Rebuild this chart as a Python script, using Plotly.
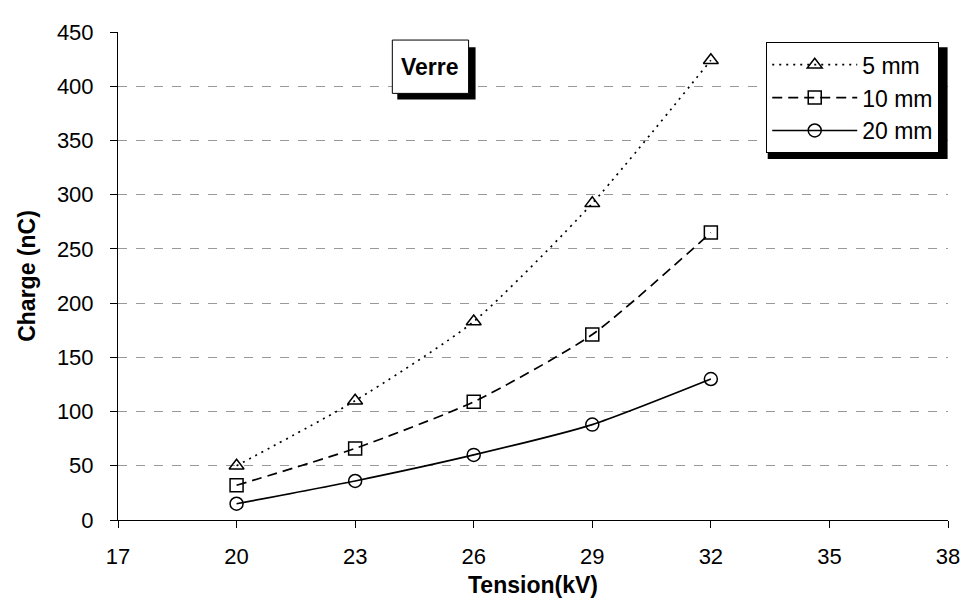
import plotly.graph_objects as go

tension = [20, 23, 26, 29, 32]
charge_5mm = [50, 110, 183, 292, 424]
charge_10mm = [32, 66, 109, 171, 265]
charge_20mm = [15, 36, 60, 88, 130]
series_names = ["5 mm", "10 mm", "20 mm"]
x_ticks = [17, 20, 23, 26, 29, 32, 35, 38]
y_ticks = [0, 50, 100, 150, 200, 250, 300, 350, 400, 450]

FONT = "Liberation Sans, Arial, sans-serif"

fig = go.Figure()
styles = [("2px,5px", "triangle-up-open"), ("10px,6px", "square-open"), ("solid", "circle-open")]
for name, ys, (dash, sym) in zip(series_names, [charge_5mm, charge_10mm, charge_20mm], styles):
    fig.add_trace(go.Scatter(
        x=tension, y=ys, name=name, mode="lines+markers",
        line=dict(color="black", width=1.7, dash=dash, shape="spline", smoothing=0.6),
        marker=dict(symbol=sym, size=13, color="black", line=dict(width=1.5, color="black")),
    ))

# legend shadow (paper coords)
fig.add_shape(type="rect", xref="paper", yref="paper",
              x0=0.7828, x1=0.9995, y0=0.740, y1=0.969,
              fillcolor="black", line=dict(width=0), layer="above")
# "Verre" label box with shadow
fig.add_shape(type="rect", xref="paper", yref="paper",
              x0=0.3365, x1=0.4308, y0=0.8619, y1=0.969,
              fillcolor="black", line=dict(width=0), layer="above")
fig.add_shape(type="rect", xref="paper", yref="paper",
              x0=0.3305, x1=0.4224, y0=0.8742, y1=0.9835,
              fillcolor="white", line=dict(width=1, color="black"), layer="above")
fig.add_annotation(text="<b>Verre</b>", xref="paper", yref="paper",
                   x=0.3764, y=0.9278, xanchor="center", yanchor="middle", showarrow=False,
                   font=dict(family=FONT, size=23, color="black"))

fig.update_layout(
    width=964, height=598,
    margin=dict(l=110, r=16, t=19, b=86),
    paper_bgcolor="white", plot_bgcolor="white",
    font=dict(family=FONT, size=22, color="black"),
    showlegend=True,
    legend=dict(x=0.781, y=0.979, xanchor="left", yanchor="top",
                bgcolor="white", bordercolor="black", borderwidth=1,
                font=dict(family=FONT, size=23, color="black"),
                itemwidth=85, tracegroupgap=0),
    xaxis=dict(range=[17, 38], tickvals=x_ticks, ticktext=[str(v) for v in x_ticks],
               showgrid=False, zeroline=False, showline=True, linecolor="black", linewidth=1,
               ticks="outside", ticklen=7, tickcolor="black", ticklabelstandoff=10,
               tickfont=dict(family=FONT, size=22),
               title=dict(text="<b>Tension(kV)</b>", font=dict(family=FONT, size=23), standoff=8)),
    yaxis=dict(range=[0, 450], tickvals=y_ticks, ticktext=[str(v) for v in y_ticks],
               showgrid=True, gridcolor="#999999", griddash="dash", gridwidth=1,
               zeroline=False, showline=True, linecolor="black", linewidth=1,
               ticks="outside", ticklen=7, tickcolor="black", ticklabelstandoff=12,
               tickfont=dict(family=FONT, size=22),
               title=dict(text="<b>Charge (nC)</b>", font=dict(family=FONT, size=23), standoff=14)),
)

fig.write_html("out.html")
